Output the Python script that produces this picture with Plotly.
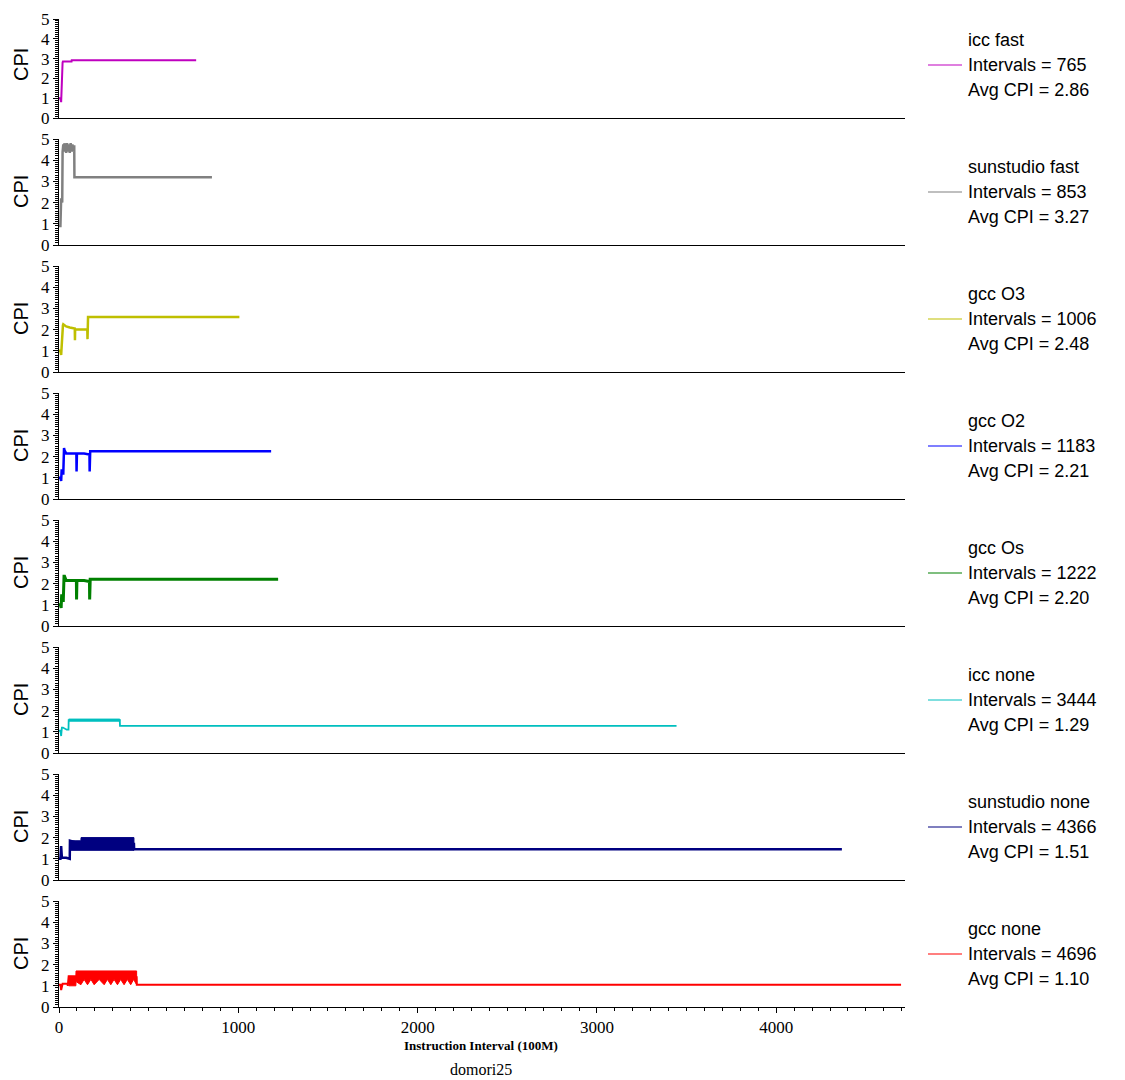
import plotly.graph_objects as go

W, H = 1125, 1080
OFF = 8  # page body margin of the html page

names = ["icc fast", "sunstudio fast", "gcc O3", "gcc O2", "gcc Os", "icc none", "sunstudio none", "gcc none"]
intervals = [765, 853, 1006, 1183, 1222, 3444, 4366, 4696]
avg_cpi = ["2.86", "3.27", "2.48", "2.21", "2.20", "1.29", "1.51", "1.10"]
colors = ["#BF00BF", "#808080", "#BFBF00", "#0000FF", "#008000", "#00BFBF", "#000080", "#FF0000"]
widths = [2, 2.5, 2.5, 2.5, 3, 1.8, 2.5, 2]

# key points of each CPI trace (interval index, CPI)
line_x = [
    [0, 8, 12, 15, 18, 20, 22, 24, 70, 71, 765],
    [0, 8, 12, 18, 20, 24, 28, 30, 40, 45, 50, 55, 60, 65, 70, 75, 80, 85, 86, 853],
    [0, 8, 12, 16, 22, 24, 40, 60, 88, 89, 90, 91, 120, 158, 159, 160, 162, 1006],
    [0, 8, 12, 15, 17, 20, 24, 28, 31, 40, 60, 97, 98, 99, 100, 140, 170, 171, 172, 174, 1183],
    [0, 8, 12, 15, 17, 20, 24, 28, 31, 40, 60, 97, 98, 99, 100, 140, 170, 171, 172, 174, 1222],
    [0, 8, 12, 16, 22, 30, 43, 53, 54, 339, 340, 3444],
    [0, 8, 12, 14, 16, 20, 40, 60, 61, 122, 418, 419, 4366],
    [0, 8, 12, 16, 20, 48, 49, 54, 433, 434, 4696],
]
line_y = [
    [1.0, 1.0, 0.8, 2.1, 1.6, 2.8, 2.85, 2.85, 2.85, 2.92, 2.92],
    [0.9, 0.9, 2.2, 2.0, 4.4, 4.75, 4.4, 4.8, 4.35, 4.8, 4.4, 4.75, 4.35, 4.8, 4.4, 4.75, 4.4, 4.7, 3.2, 3.2],
    [1.0, 1.0, 0.8, 1.6, 2.2, 2.25, 2.15, 2.1, 2.05, 1.5, 2.05, 2.0, 2.0, 2.0, 1.55, 2.0, 2.6, 2.6],
    [1.0, 1.0, 0.85, 1.4, 1.3, 1.2, 1.2, 2.4, 2.3, 2.15, 2.15, 2.15, 1.3, 2.15, 2.15, 2.15, 2.1, 1.3, 2.25, 2.25, 2.25],
    [1.0, 1.0, 0.85, 1.5, 1.3, 1.2, 1.2, 2.35, 2.35, 2.15, 2.15, 2.15, 1.25, 2.15, 2.15, 2.15, 2.1, 1.25, 2.2, 2.2, 2.2],
    [1.05, 1.05, 0.8, 1.2, 1.2, 1.15, 1.1, 1.1, 1.55, 1.55, 1.28, 1.28],
    [1.0, 1.0, 1.6, 1.05, 1.05, 1.05, 1.05, 1.0, 1.85, 1.7, 1.7, 1.45, 1.45],
    [1.05, 1.05, 0.8, 1.05, 1.1, 1.1, 1.0, 1.45, 1.4, 1.05, 1.05],
]

# envelopes of densely oscillating stretches (interval index, low CPI, high CPI)
band_x = [
    [],
    [],
    [],
    [],
    [],
    [54, 339],
    [61, 122, 123, 418],
    [54, 94, 95, 122, 140, 159, 178, 196, 224, 252, 270, 289, 307, 326, 344, 363, 381, 400, 416, 433],
]
band_lo = [
    [], [], [], [], [],
    [1.5, 1.5],
    [1.4, 1.4, 1.4, 1.4],
    [1.0, 1.0, 1.2, 1.05, 1.3, 1.05, 1.3, 1.05, 1.3, 1.05, 1.3, 1.05, 1.3, 1.05, 1.3, 1.05, 1.3, 1.05, 1.3, 1.05],
]
band_hi = [
    [], [], [], [], [],
    [1.6, 1.6],
    [1.85, 1.85, 2.0, 2.0],
    [1.45, 1.45, 1.7, 1.7, 1.7, 1.7, 1.7, 1.7, 1.7, 1.7, 1.7, 1.7, 1.7, 1.7, 1.7, 1.7, 1.7, 1.7, 1.7, 1.7],
]

x_ticks = [0, 1000, 2000, 3000, 4000]
y_ticks = [0, 1, 2, 3, 4, 5]
x_max = 4718


def px(xp):
    return (xp - OFF) / W


def py(yp):
    return 1 - (yp - OFF) / H


fig = go.Figure()

X0, X1 = 59, 905
n = len(names)
for i in range(n):
    top = 12 + 127 * i if i > 0 else 19
    bot = 118 + 127 * i
    xa = "x" if i == 0 else f"x{i+1}"
    ya = "y" if i == 0 else f"y{i+1}"
    if band_x[i]:
        bx = band_x[i] + band_x[i][::-1]
        by = band_lo[i] + band_hi[i][::-1]
        fig.add_trace(go.Scatter(x=bx, y=by, fill="toself", fillcolor=colors[i], mode="lines",
                                 line=dict(color=colors[i], width=1), xaxis=xa, yaxis=ya,
                                 showlegend=False, hoverinfo="skip"))
    fig.add_trace(go.Scatter(x=line_x[i], y=line_y[i], mode="lines",
                             line=dict(color=colors[i], width=widths[i]),
                             xaxis=xa, yaxis=ya, showlegend=False))
    last = (i == n - 1)
    xkey = "xaxis" if i == 0 else f"xaxis{i+1}"
    ykey = "yaxis" if i == 0 else f"yaxis{i+1}"
    xaxis = dict(domain=[px(X0), px(X1)], range=[0, x_max], anchor=ya, automargin=False,
                 showline=True, linecolor="black", linewidth=1, showgrid=False, zeroline=False,
                 showticklabels=last, ticks="outside" if last else "",
                 tickvals=x_ticks if last else None, ticklen=5, tickcolor="black",
                 tickfont=dict(family="Liberation Serif", size=17, color="black"))
    if last:
        xaxis["minor"] = dict(dtick=100, ticklen=3, tickcolor="black", ticks="outside", showgrid=False)
    fig.layout[xkey] = xaxis
    fig.layout[ykey] = dict(domain=[py(bot), py(top)], range=[0, 5], anchor=xa, automargin=False,
                            showline=True, linecolor="black", linewidth=1, showgrid=False, zeroline=False,
                            ticks="outside", ticklen=5, tickcolor="black", tickvals=y_ticks,
                            ticklabeloverflow="allow",
                            minor=dict(dtick=0.1, ticklen=3, tickcolor="black", ticks="outside", showgrid=False),
                            tickfont=dict(family="Liberation Serif", size=17, color="black"))
    # CPI label
    fig.add_annotation(x=px(21), y=py((12 + 127 * i + bot) / 2), xref="paper", yref="paper",
                       xanchor="center", yanchor="middle",
                       text="CPI", textangle=-90, showarrow=False,
                       font=dict(family="Liberation Sans", size=20, color="black"))
    # legend block
    ly = 65 + 127 * i
    fig.add_shape(type="line", xref="paper", yref="paper", x0=px(928), x1=px(962),
                  y0=py(ly), y1=py(ly), line=dict(color=colors[i], width=1.2))
    for k, txt in enumerate([names[i], f"Intervals = {intervals[i]}", f"Avg CPI = {avg_cpi[i]}"]):
        fig.add_annotation(x=px(966), y=py(ly + (k - 1) * 25), xref="paper", yref="paper",
                           text=txt, showarrow=False, xanchor="left", yanchor="middle",
                           font=dict(family="Liberation Sans", size=18, color="black"))

fig.add_annotation(x=px(481), y=py(1045), xref="paper", yref="paper",
                   xanchor="center", yanchor="middle",
                   text="<b>Instruction Interval (100M)</b>", showarrow=False,
                   font=dict(family="Liberation Serif", size=13, color="black"))
fig.add_annotation(x=px(481), y=py(1069), xref="paper", yref="paper",
                   xanchor="center", yanchor="middle",
                   text="domori25", showarrow=False,
                   font=dict(family="Liberation Serif", size=16, color="black"))

fig.update_layout(width=W, height=H, margin=dict(l=0, r=0, t=0, b=0),
                  plot_bgcolor="white", paper_bgcolor="white")

fig.write_html("out.html")
